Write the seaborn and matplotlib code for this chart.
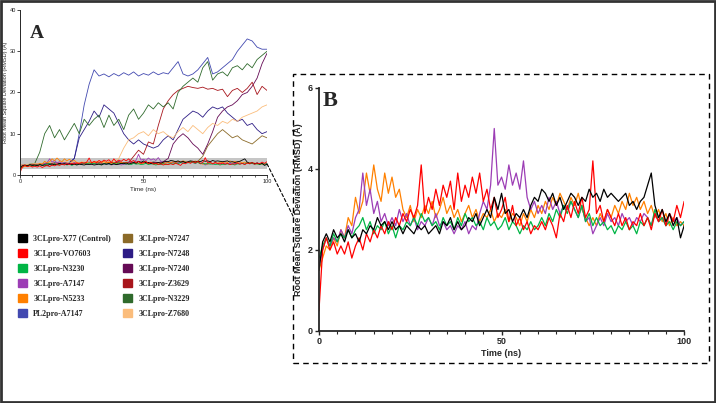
import pandas as pd
import matplotlib
matplotlib.use("Agg")
import matplotlib.pyplot as plt
from matplotlib.patches import Patch, Rectangle, ConnectionPatch
from matplotlib.ticker import MultipleLocator
import seaborn as sns

# RMSD (A), 1 ns steps - complexes that stay stable (panel B)
time_1ns = list(range(0, 101))
x77 = [1.5, 2.2, 2.4, 2.2, 2.5, 2.3, 2.4, 2.2, 2.5, 2.3,
       2.4, 2.2, 2.5, 2.4, 2.6, 2.5, 2.8, 2.6, 2.7, 2.5,
       2.7, 2.5, 2.6, 2.4, 2.6, 2.5, 2.4, 2.6, 2.5, 2.6,
       2.4, 2.5, 2.6, 2.4, 2.7, 2.6, 2.8, 2.5, 2.7, 2.5,
       2.6, 2.8, 2.7, 2.9, 2.6, 2.8, 3.0, 2.8, 3.3, 3.0,
       3.4, 2.9, 3.0, 2.7, 2.9, 2.8, 3.0, 2.8, 3.1, 3.3,
       3.2, 3.5, 3.4, 3.2, 3.4, 3.1, 3.3, 3.0, 3.2, 3.4,
       3.3, 3.1, 3.3, 3.2, 3.5, 3.3, 3.4, 3.2, 3.5, 3.3,
       3.4, 3.3, 3.2, 3.3, 3.4, 3.1, 3.2, 3.0, 3.2, 3.3,
       3.6, 3.9, 3.1, 2.8, 3.0, 2.7, 2.9, 2.6, 2.8, 2.3,
       2.6]
vo7603 = [0.5, 2.0, 2.3, 2.0, 2.2, 1.9, 2.1, 1.9, 2.2, 1.8,
          2.1, 2.3, 2.0, 2.4, 2.2, 2.5, 2.3, 2.6, 2.4, 2.7,
          2.5, 2.8, 2.6, 2.9, 2.7, 3.0, 2.8, 3.1, 4.1, 2.9,
          3.3, 3.0, 3.5, 3.1, 3.6, 3.3, 3.7, 3.0, 3.9, 3.2,
          3.6, 3.3, 3.8, 3.4, 3.9, 3.2, 3.5, 3.0, 3.3, 2.8,
          3.0, 3.3, 2.7, 3.1, 2.6, 2.8, 2.5, 2.7, 2.4, 2.6,
          2.5, 2.7, 2.5, 2.8, 2.6, 2.3, 2.9, 2.7, 3.1, 2.8,
          3.2, 2.9, 3.3, 2.8, 3.0, 4.2, 2.9, 3.1, 2.7, 3.0,
          2.8, 2.6, 2.9, 2.6, 2.8, 2.5, 2.7, 2.6, 2.9, 2.6,
          2.8, 2.5, 2.9, 2.7, 3.0, 2.6, 2.9, 2.7, 3.1, 2.8,
          3.2]
n3230 = [1.8, 2.1, 2.3, 2.1, 2.4, 2.2, 2.4, 2.3, 2.5, 2.3,
         2.5, 2.6, 2.8, 2.5, 2.7, 2.4, 2.6, 2.5, 2.7, 2.4,
         2.6, 2.3, 2.6, 2.5, 2.7, 2.6, 2.8, 2.6, 2.9, 2.7,
         2.8, 2.6, 2.7, 2.5, 2.8, 2.6, 2.7, 2.5, 2.8, 2.6,
         2.9, 2.7, 2.8, 2.6, 2.7, 2.5, 2.8, 2.6, 2.7, 2.5,
         2.6, 2.8, 2.5, 2.7, 2.6, 2.4, 2.6, 2.5, 2.7, 2.5,
         2.6, 2.8, 2.6, 2.9, 2.7, 3.0, 2.8, 3.1, 2.9, 3.2,
         3.0, 2.8, 3.1, 2.7, 2.9, 2.6, 2.8, 2.6, 2.7, 2.5,
         2.6, 2.4, 2.6, 2.5, 2.7, 2.5, 2.6, 2.4, 2.7, 2.6,
         2.8, 2.6, 3.0, 2.7, 2.8, 2.6, 2.7, 2.5, 2.7, 2.6,
         2.7]
a7147 = [1.6, 2.0, 2.3, 2.1, 2.3, 2.2, 2.5, 2.3, 2.6, 2.4,
         2.8, 3.0, 3.9, 3.1, 3.5, 2.9, 3.2, 2.7, 2.9, 2.6,
         2.8, 2.6, 3.0, 2.7, 2.9, 2.6, 2.8, 2.5, 2.7, 2.6,
         2.8, 2.6, 2.9, 2.6, 2.7, 2.5, 2.6, 2.4, 2.6, 2.5,
         2.7, 2.4, 2.6, 2.5, 2.9, 3.2, 3.0, 3.6, 5.0, 3.6,
         3.8, 3.5, 4.1, 3.6, 3.9, 3.5, 4.2, 3.3, 3.0, 3.2,
         2.9, 3.1, 2.9, 3.3, 3.0, 3.2, 2.9, 3.1, 3.0, 3.2,
         3.0, 2.8, 3.1, 2.7, 2.8, 2.4, 2.6, 2.8, 2.6, 2.9,
         2.7, 2.8, 2.6, 2.9, 2.7, 2.8, 2.6, 2.8, 2.7, 2.9,
         2.8, 2.6, 2.9, 2.7, 2.8, 2.6, 2.9, 2.7, 2.8, 2.6,
         2.7]
n5233 = [1.5, 1.8, 2.1, 2.0, 2.3, 2.1, 2.5, 2.3, 2.8, 2.6,
         3.3, 2.9, 3.2, 3.9, 3.4, 4.1, 3.5, 3.2, 3.9, 3.4,
         3.8, 3.3, 3.5, 3.0, 2.8, 3.1, 2.7, 3.0, 2.8, 3.1,
         2.9, 3.2, 2.8, 3.0, 3.3, 2.9, 3.1, 2.8, 3.0, 2.7,
         2.9, 3.1, 2.8, 3.0, 2.7, 2.9, 2.8, 3.0, 2.7, 2.9,
         2.8, 3.0, 2.7, 2.9, 2.8, 2.6, 2.9, 2.7, 3.0, 2.8,
         3.1, 2.9, 3.2, 3.0, 3.3, 3.1, 3.4, 3.2, 3.0, 3.3,
         3.1, 3.4, 3.0, 2.8, 2.6, 2.8, 2.6, 2.9, 2.7, 3.0,
         2.8, 3.1, 2.9, 3.2, 3.0, 3.4, 3.1, 3.3, 3.0, 3.2,
         2.9, 3.1, 2.8, 3.0, 2.7, 2.9, 2.6, 2.8, 2.6, 2.7,
         2.6]

# 2 ns steps - complexes that drift away (only in panel A)
time_2ns = list(range(0, 101, 2))
pl2_a7147 = [2.0, 2.3, 2.5, 2.4, 2.6, 2.8, 2.7, 2.9, 3.0, 2.8, 2.9,
             4.0, 10.0, 17.0, 22.0, 25.5, 24.0, 24.5, 23.8, 24.6, 24.0,
             24.8, 24.2, 25.0, 24.0, 24.6, 24.2, 25.0, 24.3, 24.8, 24.5,
             26.0, 27.5, 24.5, 24.0, 24.5, 25.5, 27.0, 28.5, 24.5, 25.0,
             26.0, 27.0, 28.0, 30.0, 31.5, 33.0, 32.5, 31.0, 30.5, 30.5]
n7248 = [2.2, 2.4, 2.5, 2.6, 2.7, 2.6, 2.8, 2.9, 2.7, 2.8, 3.0,
         4.0, 9.0, 11.0, 13.0, 15.5, 14.0, 17.0, 16.0, 15.0, 12.5,
         10.0, 8.5, 7.5, 8.5, 7.5, 7.0, 6.5, 7.0, 8.5, 9.5,
         8.5, 11.0, 13.5, 14.5, 15.5, 15.0, 14.0, 15.5, 16.5, 16.0,
         16.5, 15.0, 14.0, 13.0, 13.5, 12.0, 12.5, 11.0, 10.0, 10.5]
n3229 = [2.0, 2.3, 2.6, 2.8, 5.5, 10.0, 12.0, 9.0, 11.0, 8.5,
         10.5, 12.5, 10.0, 13.5, 12.0, 13.5, 14.5, 11.5, 14.5, 12.0,
         13.5, 11.0, 14.5, 16.0, 13.5, 15.0, 17.0, 16.0, 17.5, 16.5,
         17.5, 16.0, 20.0, 21.5, 22.5, 23.5, 22.5, 26.0, 27.5, 23.0,
         24.5, 25.0, 24.0, 26.0, 26.5, 25.5, 27.0, 26.0, 28.0, 29.0,
         30.0]
z3629 = [2.3, 2.5, 2.4, 2.6, 2.7, 2.5, 2.8, 2.6, 2.9, 2.7,
         2.8, 2.6, 2.9, 2.8, 3.0, 2.7, 2.9, 2.8, 3.0, 2.9,
         3.1, 2.8, 3.0,
         4.5, 6.0, 5.0, 8.0, 7.5, 12.0, 16.0, 18.0, 19.5, 20.5,
         21.0, 21.5, 21.2, 21.0, 21.3, 20.8, 21.0, 20.5, 20.8, 19.0,
         20.5, 21.0, 20.0, 21.0, 22.5, 19.5, 21.5, 20.5]
n7240 = [2.2, 2.4, 2.5, 2.6, 2.5, 2.7, 2.6, 2.8, 2.7, 2.9,
         2.8, 3.0, 2.8, 2.9, 3.1, 2.9, 3.0, 2.8, 3.1, 3.0,
         3.2, 2.9, 3.1, 3.0, 3.2, 3.0, 2.9, 3.1, 3.0, 3.2,
         4.0, 7.5, 9.0, 10.0, 9.0, 7.5, 6.5, 5.0, 7.5, 10.5,
         14.0, 15.5, 16.5, 17.0, 18.0, 19.5, 20.0, 21.5, 23.5, 27.0,
         29.5]
z7680 = [2.3, 2.5, 2.6, 2.8, 2.7, 2.9, 3.2, 2.8, 3.0, 3.3,
         2.9, 3.1, 3.0, 3.2, 2.9, 3.1, 3.3, 3.0, 3.2, 3.4,
         4.0, 6.5, 8.5, 9.0, 10.0, 10.5, 9.5, 11.0, 10.0, 10.5,
         9.5, 9.0, 10.5, 11.5, 10.5, 12.0, 11.0, 10.0, 11.5, 12.5,
         12.0, 13.0, 12.5, 13.5, 13.0, 14.0, 14.5, 15.0, 15.5, 16.5,
         17.0]
n7247 = [2.2, 2.4, 2.5, 2.7, 2.6, 2.8, 2.7, 2.9, 2.6, 2.8,
         3.0, 2.7, 2.9, 2.8, 3.0, 2.7, 2.9, 2.8, 3.1, 2.9,
         2.8, 3.0, 2.9, 3.1, 2.8, 3.0, 2.9, 3.1, 3.0, 2.8,
         3.0, 3.1, 2.9, 3.2, 3.0, 3.1, 3.3,
         4.5, 7.0, 8.5, 10.0, 11.0, 10.0, 9.0, 9.5, 8.5, 8.0,
         7.5, 8.5, 9.5, 9.0]

stable = {
    "3CLpro-X77 (Control)": x77,
    "3CLpro-VO7603": vo7603,
    "3CLpro-N3230": n3230,
    "3CLpro-A7147": a7147,
    "3CLpro-N5233": n5233,
}
drifting = {
    "PL2pro-A7147": pl2_a7147,
    "3CLpro-N7247": n7247,
    "3CLpro-N7248": n7248,
    "3CLpro-N7240": n7240,
    "3CLpro-Z3629": z3629,
    "3CLpro-N3229": n3229,
    "3CLpro-Z7680": z7680,
}
colors = {
    "3CLpro-X77 (Control)": "#000000",
    "3CLpro-VO7603": "#ff0000",
    "3CLpro-N3230": "#00b545",
    "3CLpro-A7147": "#9c3db5",
    "3CLpro-N5233": "#ff8000",
    "PL2pro-A7147": "#4249b0",
    "3CLpro-N7247": "#8b6a28",
    "3CLpro-N7248": "#2d1c85",
    "3CLpro-N7240": "#650a55",
    "3CLpro-Z3629": "#a8151c",
    "3CLpro-N3229": "#2f6a2c",
    "3CLpro-Z7680": "#fbbd7c",
}
legend_order = ["3CLpro-X77 (Control)", "3CLpro-VO7603", "3CLpro-N3230",
                "3CLpro-A7147", "3CLpro-N5233", "PL2pro-A7147",
                "3CLpro-N7247", "3CLpro-N7248", "3CLpro-N7240",
                "3CLpro-Z3629", "3CLpro-N3229", "3CLpro-Z7680"]

rows = []
for name, vals in stable.items():
    rows.append(pd.DataFrame({"time": time_1ns, "rmsd": vals, "system": name}))
for name, vals in drifting.items():
    rows.append(pd.DataFrame({"time": time_2ns, "rmsd": vals, "system": name}))
df = pd.concat(rows, ignore_index=True)

sns.set_style("ticks")
plt.rcParams['font.family'] = ['Liberation Sans', 'DejaVu Sans']

fig = plt.figure(figsize=(7.16, 4.03), dpi=100)
ax_a = fig.add_axes([0.0279, 0.566, 0.345, 0.409])
ax_b = fig.add_axes([0.4455, 0.1787, 0.510, 0.603])

# ---- panel A: all systems
ax_a.axhspan(1.4, 4.1, color="#c6c6c6", lw=0, zorder=0)
sns.lineplot(data=df, x="time", y="rmsd", hue="system",
             hue_order=list(drifting) + ["3CLpro-A7147", "3CLpro-N5233", "3CLpro-N3230", "3CLpro-X77 (Control)", "3CLpro-VO7603"],
             palette=colors, legend=False, errorbar=None, linewidth=0.6, ax=ax_a)
ax_a.set_xlim(0, 100)
ax_a.set_ylim(0, 40)
ax_a.set_xticks([0, 50, 100])
ax_a.set_yticks([0, 10, 20, 30, 40])
ax_a.xaxis.set_minor_locator(MultipleLocator(5))
ax_a.tick_params(axis="both", which="major", labelsize=4, length=2, width=0.6, pad=1)
ax_a.tick_params(axis="x", which="minor", length=1.5, width=0.5)
ax_a.set_xlabel("Time (ns)", fontsize=4.5, labelpad=2)
ax_a.set_ylabel("Root Mean Square Deviation (RMSD) (Å)", fontsize=4, labelpad=1)
sns.despine(ax=ax_a)
for s in ["left", "bottom"]:
    ax_a.spines[s].set_linewidth(0.7)

# ---- panel B: zoom on the stable complexes
sns.lineplot(data=df[df["system"].isin(stable)], x="time", y="rmsd", hue="system",
             hue_order=["3CLpro-N5233", "3CLpro-A7147", "3CLpro-N3230", "3CLpro-VO7603", "3CLpro-X77 (Control)"],
             palette=colors, legend=False, errorbar=None, linewidth=0.9, ax=ax_b)
ax_b.set_xlim(0, 100)
ax_b.set_ylim(0, 6)
ax_b.set_xticks([0, 50, 100])
ax_b.set_yticks([0, 2, 4, 6])
ax_b.xaxis.set_minor_locator(MultipleLocator(5))
ax_b.tick_params(axis="both", which="major", labelsize=6.5, length=3, width=1, pad=1.5)
ax_b.tick_params(axis="x", which="minor", length=2, width=0.8)
for lab in ax_b.get_xticklabels() + ax_b.get_yticklabels():
    lab.set_fontweight("bold")
ax_b.set_xlabel("Time (ns)", fontsize=6.5, fontweight="bold", labelpad=2)
ax_b.set_ylabel("Root Mean Square Deviation (RMSD) (Å)", fontsize=6.5, fontweight="bold", labelpad=3)
sns.despine(ax=ax_b)
for s in ["left", "bottom"]:
    ax_b.spines[s].set_linewidth(1.3)

# panel letters
fig.text(37 / 716, 1 - 33.5 / 403, "A", family="Liberation Serif", fontweight="bold",
         fontsize=14, ha="center", va="center")
fig.text(330.5 / 716, 1 - 100.5 / 403, "B", family="Liberation Serif", fontweight="bold",
         fontsize=16, ha="center", va="center")

# dashed frame around B and connector from the grey band
fig.add_artist(Rectangle((293 / 716, 1 - 363 / 403), 416 / 716, 289 / 403,
                         transform=fig.transFigure, fill=False, ec="black",
                         lw=1, ls=(0, (4, 3))))
fig.add_artist(ConnectionPatch(xyA=(100, 2.7), coordsA=ax_a.transData,
                               xyB=(293 / 716, 1 - 216 / 403), coordsB=fig.transFigure,
                               color="black", lw=0.8, ls=(0, (3, 2))))
# outer frame
fig.add_artist(Rectangle((0.001, 0.002), 0.997, 0.995, transform=fig.transFigure,
                         fill=False, ec="#333333", lw=2))

handles = [Patch(facecolor=colors[n], edgecolor=colors[n]) for n in legend_order]
fig.legend(handles, legend_order, loc="upper left",
           bbox_to_anchor=(18 / 716, 1 - 234 / 403), ncol=2, frameon=False,
           prop={"family": "Liberation Serif", "weight": "bold", "size": 5.8},
           handlelength=1.15, handleheight=1.15, handletextpad=0.75,
           labelspacing=0.78, columnspacing=1.5, borderpad=0, borderaxespad=0)

fig.savefig("out.png", dpi=100)
